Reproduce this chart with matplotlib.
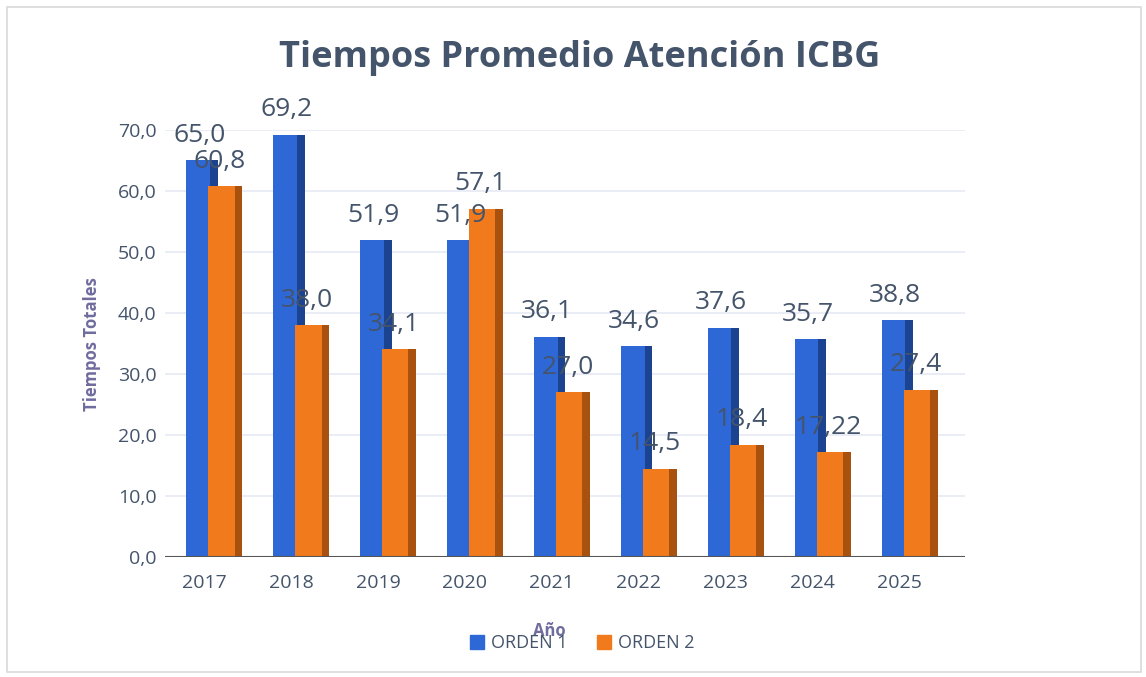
import matplotlib
matplotlib.use("Agg")
import matplotlib.pyplot as plt
from matplotlib.patches import Rectangle, Patch
import numpy as np

years = ["2017", "2018", "2019", "2020", "2021", "2022", "2023", "2024", "2025"]
orden1 = [65.0, 69.2, 51.9, 51.9, 36.1, 34.6, 37.6, 35.7, 38.8]
orden2 = [60.8, 38.0, 34.1, 57.1, 27.0, 14.5, 18.4, 17.22, 27.4]
labels1 = ["65,0", "69,2", "51,9", "51,9", "36,1", "34,6", "37,6", "35,7", "38,8"]
labels2 = ["60,8", "38,0", "34,1", "57,1", "27,0", "14,5", "18,4", "17,22", "27,4"]
yticks = [0, 10, 20, 30, 40, 50, 60, 70]

TEXT = "#44546A"
AXLAB = "#6F6C9E"
BLUE, BLUE_SIDE = "#2E67D6", "#1C438F"
ORANGE, ORANGE_SIDE = "#F07A1C", "#A9520F"

plt.rcParams['font.family'] = ['Open Sans', 'DejaVu Sans']

fig = plt.figure(figsize=(11.46, 6.77), dpi=100)
ax = fig.add_axes([0.144, 0.177, 0.698, 0.631])

x = np.arange(len(years))
w1, w2 = 0.36, 0.39
x1 = x - 0.025
x2 = x + 0.245

# gridlines
for t in yticks[1:]:
    ax.axhline(t, color="#E6EAF4", lw=1.2, zorder=0)

# blue bars: front face + darker side strip
ax.bar(x1, orden1, width=w1, color=BLUE, zorder=2)
ax.bar(x1 + w1 / 2 - 0.045, orden1, width=0.09, color=BLUE_SIDE, zorder=2)
# orange bars in front
ax.bar(x2, orden2, width=w2, color=ORANGE, zorder=3)
ax.bar(x2 + w2 / 2 - 0.045, orden2, width=0.09, color=ORANGE_SIDE, zorder=3)

for xi, v, s in zip(x1, orden1, labels1):
    ax.annotate(s, (xi, v), xytext=(-2, 9), textcoords="offset points",
                ha="center", va="bottom", fontsize=19, color=TEXT,
                annotation_clip=False, zorder=5)
for xi, v, s in zip(x2, orden2, labels2):
    ax.annotate(s, (xi, v), xytext=(-4, 9), textcoords="offset points",
                ha="center", va="bottom", fontsize=19, color=TEXT,
                annotation_clip=False, zorder=5)

ax.axhline(0, color="#555555", lw=1.5, zorder=4)

ax.set_xlim(-0.45, 8.75)
ax.set_ylim(0, 70)
ax.set_xticks(x)
ax.set_xticklabels(years, fontsize=14, color=TEXT)
ax.set_yticks(yticks)
ax.set_yticklabels([f"{t},0" for t in yticks], fontsize=14, color=TEXT)
ax.tick_params(length=0, pad=12)
ax.tick_params(axis="y", pad=6)
for sp in ax.spines.values():
    sp.set_visible(False)

ax.set_ylabel("Tiempos Totales", fontsize=12, fontweight="bold", color=AXLAB, labelpad=12)

fig.text(0.506, 0.915, "Tiempos Promedio Atención ICBG", ha="center", va="center",
         fontsize=26, fontweight="bold", color=TEXT)
fig.text(0.479, 0.068, "Año", ha="center", va="center", fontsize=12,
         fontweight="bold", color=AXLAB)

handles = [Patch(color=BLUE, label="ORDEN 1"), Patch(color=ORANGE, label="ORDEN 2")]
fig.legend(handles=handles, loc="center", bbox_to_anchor=(0.508, 0.05), ncol=2,
           frameon=False, fontsize=13, handlelength=0.8, handleheight=0.8,
           columnspacing=1.6, handletextpad=0.4, labelcolor=TEXT)

fig.patches.append(Rectangle((0.006, 0.007), 0.99, 0.982, transform=fig.transFigure,
                             fill=False, edgecolor="#D9D9D9", lw=1.2))

fig.savefig("out.png", dpi=100, facecolor="white")
